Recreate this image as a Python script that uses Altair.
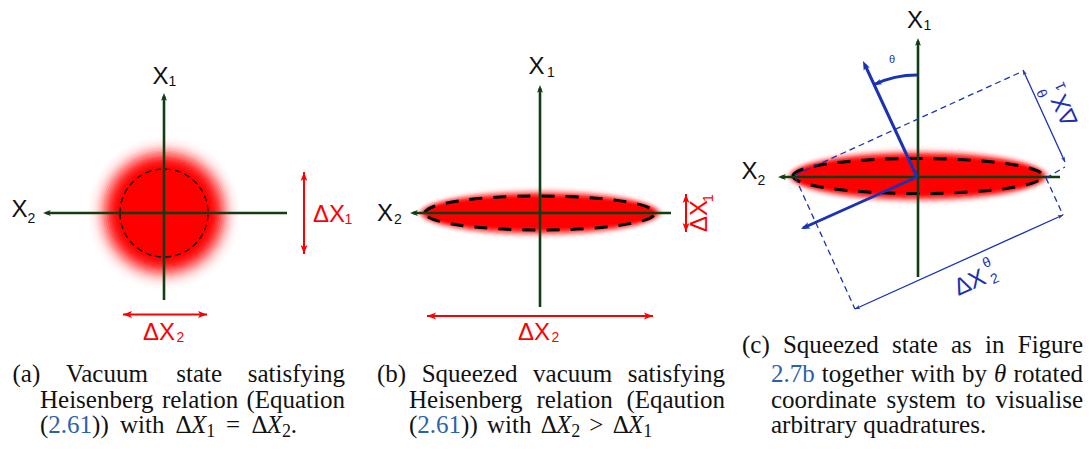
import math
import altair as alt
import pandas as pd

W, H = 1091, 452

# ---------------- geometry of the three phase-space sketches ----------------
# blurred red states: centre, solid core semi-axes, width of the soft edge
state_cx = [164, 540, 918]
state_cy = [213, 213, 176]
state_a = [40, 110, 119]
state_b = [40, 12, 15]
state_fade = [38, 16, 16]

# dashed uncertainty contours (semi-axes)
contour_a = [44, 115, 125]
contour_b = [44, 17, 17.5]

# quadrature axes X1 / X2 (dark green): x1, y1, x2, y2
axis_x1 = [164, 46, 540, 413, 918, 781]
axis_y1 = [96, 213, 88, 213, 41, 177]
axis_x2 = [164, 287, 540, 671, 918, 1060]
axis_y2 = [300, 213, 307, 213, 277, 177]
axis_tip_x = [164, 43, 540, 410, 918, 778]
axis_tip_y = [93, 213, 85, 213, 38, 177]
axis_tip_ang = [0, 270, 0, 270, 0, 270]

# red uncertainty arrows
red_x1 = [304, 123, 686, 427]
red_y1 = [172, 314.5, 194, 316]
red_x2 = [304, 207, 686, 653]
red_y2 = [254, 314.5, 232, 316]
red_tip_x = [304, 304, 123, 207, 686, 686, 427, 653]
red_tip_y = [172, 254, 314.5, 314.5, 194, 232, 316, 316]
red_tip_ang = [0, 180, 270, 90, 0, 180, 270, 90]

# rotated quadrature frame (blue)
rot_x1 = [917, 917]
rot_y1 = [177, 177]
rot_x2 = [865, 803]
rot_y2 = [65, 228]
rot_tip_x = [863, 801, 874]
rot_tip_y = [61, 229, 85]
rot_tip_ang = [335, 246, 245]

# dimension lines and their extension lines
dim_x1 = [1023, 855]
dim_y1 = [70, 309]
dim_x2 = [1065, 1063]
dim_y2 = [162, 215]
dim_tip_x = [1023, 1065, 855, 1063]
dim_tip_y = [70, 162, 309, 215]
dim_tip_ang = [335, 155, 246, 66]
ext_x1 = [795, 795, 1046, 1046]
ext_y1 = [175, 177, 178, 178]
ext_x2 = [1021, 855, 1065, 1063]
ext_y2 = [72, 309, 167, 215]

# rotation angle indicator: centre and radius of the arc
arc_cx, arc_cy, arc_r = 917, 177, 102

# ---------------- labels inside the sketches ----------------
BLACK, RED, BLUE, LINK = "#111111", "#ff0000", "#1a33b3", "#2a62ad"
GREEN = "#123d12"

lab_text = ["X", "1", "X", "2", "X", "1", "X", "2", "X", "1", "X", "2",
            "ΔX", "1", "ΔX", "2", "ΔX", "1", "ΔX", "2",
            "ΔX", "1", "θ", "ΔX", "2", "θ", "θ"]
lab_x = [160.5, 172.5, 19.5, 31.5, 536.5, 551, 385, 398, 915, 927.5, 749.5, 761.5,
         329, 348.5, 159, 180.5, 700, 709, 534, 555.5,
         1065, 1061, 1043, 970, 995, 987, 892]
lab_y = [76.5, 82, 210, 219, 66.5, 72.5, 213.5, 219.5, 20.5, 26, 172, 181,
         214.5, 220, 332.5, 338, 216, 198, 332.5, 338,
         110, 86, 93, 283, 279, 263, 60]
lab_size = [24, 14, 24, 14, 24, 14, 24, 14, 24, 14, 24, 14,
            24, 14, 24, 14, 24, 14, 24, 14,
            24, 14, 14, 24, 14, 14, 11]
lab_color = [BLACK] * 12 + [RED] * 8 + [BLUE] * 7
lab_angle = [0] * 16 + [270, 270, 0, 0] + [246, 246, 246, 336, 336, 336, 0]

# ---------------- captions ----------------
# every line is a list of words, every word a list of (text, style) runs;
# styles: r = roman, link = roman in link colour, i = italic, sub = subscript
caption_a = [
    [[("(a)", "r")], [("Vacuum", "r")], [("state", "r")], [("satisfying", "r")]],
    [[("Heisenberg", "r")], [("relation", "r")], [("(Equation", "r")]],
    [[("(", "r"), ("2.61", "link"), ("))", "r")], [("with", "r")],
     [("Δ", "r"), ("X", "i"), ("1", "sub")], [("=", "r")],
     [("Δ", "r"), ("X", "i"), ("2", "sub"), (".", "r")]],
]
caption_b = [
    [[("(b)", "r")], [("Squeezed", "r")], [("vacuum", "r")], [("satisfying", "r")]],
    [[("Heisenberg", "r")], [("relation", "r")], [("(Eqaution", "r")]],
    [[("(", "r"), ("2.61", "link"), ("))", "r")], [("with", "r")],
     [("Δ", "r"), ("X", "i"), ("2", "sub")], [(">", "r")],
     [("Δ", "r"), ("X", "i"), ("1", "sub")]],
]
caption_c = [
    [[("(c)", "r")], [("Squeezed", "r")], [("state", "r")], [("as", "r")],
     [("in", "r")], [("Figure", "r")]],
    [[("2.7b", "link")], [("together", "r")], [("with", "r")], [("by", "r")],
     [("θ", "i")], [("rotated", "r")]],
    [[("coordinate", "r")], [("system", "r")], [("to", "r")], [("visualise", "r")]],
    [[("arbitrary", "r")], [("quadratures.", "r")]],
]
captions = [caption_a, caption_b, caption_c]
cap_first_left = [12.5, 377, 742]      # x of the "(a)" line
cap_left = [40, 409, 771]              # hanging indent of the following lines
# right end of every line; None = natural word spacing
cap_line_right = [[345, 345, 297], [725, 725, 652], [1083, 1083, 1083, None]]
cap_baselines = [[382, 407.5, 433], [382, 407.5, 433], [353, 382, 407.5, 433]]
CAP_FS = 25

# advance widths (1/1000 em) of the serif face used for the captions
ROMAN_W = {" ": 250, "(": 333, ")": 333, ".": 250, "=": 564, ">": 564, "Δ": 612,
           "a": 444, "b": 500, "c": 444, "d": 500, "e": 444, "f": 333, "g": 500,
           "h": 500, "i": 278, "l": 278, "m": 778, "n": 500, "o": 500, "q": 500,
           "r": 333, "s": 389, "t": 278, "u": 500, "v": 500, "w": 722, "y": 500,
           "z": 444, "E": 611, "F": 556, "H": 722, "S": 556, "V": 722}
ITALIC_W = {"X": 611, "θ": 500}


def run_width(text, style):
    table = ITALIC_W if style == "i" else ROMAN_W
    em = sum(table.get(ch, 500) for ch in text) / 1000.0
    return em * CAP_FS * (0.7 if style == "sub" else 1.0)


cap_rows = []
for cap, x_first, x_left, rights, bases in zip(
        captions, cap_first_left, cap_left, cap_line_right, cap_baselines):
    for li, (line, base, x_right) in enumerate(zip(cap, bases, rights)):
        x0 = x_first if li == 0 else x_left
        widths = [sum(run_width(t, s) for t, s in word) for word in line]
        if x_right is None:
            gap = 0.25 * CAP_FS
        else:
            gap = (x_right - x0 - sum(widths)) / (len(line) - 1)
        x = x0
        for word, wdt in zip(line, widths):
            xr = x
            for t, s in word:
                cap_rows.append(dict(t=t, style=s, x=xr,
                                     y=base + (4 if s == "sub" else 0),
                                     c=LINK if s == "link" else BLACK))
                xr += run_width(t, s)
            x += wdt + gap
cap_df = pd.DataFrame(cap_rows)


# ---------------- helpers ----------------
def ellipse_path(ratio):
    """Unit ellipse (x semi-axis 1, y semi-axis = ratio) as a symbol path."""
    k = 0.5523
    r = ratio
    return (f"M-1,0C-1,{-k * r:.4f},{-k:.4f},{-r:.4f},0,{-r:.4f}"
            f"C{k:.4f},{-r:.4f},1,{-k * r:.4f},1,0"
            f"C1,{k * r:.4f},{k:.4f},{r:.4f},0,{r:.4f}"
            f"C{-k:.4f},{r:.4f},-1,{k * r:.4f},-1,0Z")


ARROW = "M0,0L0.62,1.65L0,1.25L-0.62,1.65Z"
ARC = "M0,-1Q-0.2217,-1,-0.4226,-0.9063"

xs = alt.Scale(domain=[0, W], nice=False, zero=False)
ys = alt.Scale(domain=[0, H], nice=False, zero=False, reverse=True)


def pos():
    return dict(x=alt.X("x:Q", scale=xs, axis=None),
                y=alt.Y("y:Q", scale=ys, axis=None))


def seg_df(x1, y1, x2, y2):
    return pd.DataFrame({"x": x1, "y": y1, "x2": x2, "y2": y2})


def rule_layer(df, color, width, dash=None):
    kw = dict(color=color, strokeWidth=width)
    if dash:
        kw["strokeDash"] = dash
    return alt.Chart(df).mark_rule(**kw).encode(**pos(), x2="x2:Q", y2="y2:Q")


# ---------------- soft red states ----------------
# a solid core plus stacked translucent rings whose combined opacity
# falls off smoothly across the soft edge
N_RING = 20


def edge_opacity(d, w):
    return 0.5 * math.erfc((d - w / 2) / (math.sqrt(2) * w / 5))


rows = []
for cx, cy, a, b, w in zip(state_cx, state_cy, state_a, state_b, state_fade):
    rows.append(dict(x=cx, y=cy, shape=ellipse_path(b / a), size=4 * a * a, op=1.0))
    target = [edge_opacity((i - 0.5) * w / N_RING, w) for i in range(1, N_RING + 1)] + [0.0]
    for i in range(1, N_RING + 1):
        alpha = 1 - (1 - target[i - 1]) / (1 - target[i])
        e = w * i / N_RING
        A, B = a + e, b + e
        rows.append(dict(x=cx, y=cy, shape=ellipse_path(B / A), size=4 * A * A,
                         op=round(max(alpha, 0.0), 4)))
glow = alt.Chart(pd.DataFrame(rows)).mark_point(
    filled=True, color=RED, strokeWidth=0).encode(
    **pos(),
    shape=alt.Shape("shape:N", scale=None),
    size=alt.Size("size:Q", scale=None),
    opacity=alt.Opacity("op:Q", scale=None))

# dashed contours
cont = pd.DataFrame({
    "x": state_cx, "y": state_cy,
    "shape": [ellipse_path(b / a) for a, b in zip(contour_a, contour_b)],
    "size": [4 * a * a for a in contour_a]})
contour_thin = alt.Chart(cont.iloc[[0]]).mark_point(
    filled=False, color="black", strokeWidth=1.2, strokeDash=[6, 4], opacity=1).encode(
    **pos(), shape=alt.Shape("shape:N", scale=None), size=alt.Size("size:Q", scale=None))
contour_thick = alt.Chart(cont.iloc[[1, 2]]).mark_point(
    filled=False, color="black", strokeWidth=3, strokeDash=[13, 11], opacity=1).encode(
    **pos(), shape=alt.Shape("shape:N", scale=None), size=alt.Size("size:Q", scale=None))

# ---------------- lines ----------------
axes = rule_layer(seg_df(axis_x1, axis_y1, axis_x2, axis_y2), GREEN, 2.6)
red_lines = rule_layer(seg_df(red_x1, red_y1, red_x2, red_y2), RED, 2)
rot_lines = rule_layer(seg_df(rot_x1, rot_y1, rot_x2, rot_y2), BLUE, 3)
dim_lines = rule_layer(seg_df(dim_x1, dim_y1, dim_x2, dim_y2), BLUE, 1.3)
ext_lines = rule_layer(seg_df(ext_x1, ext_y1, ext_x2, ext_y2), BLUE, 1.3, [6, 4])

arc = alt.Chart(pd.DataFrame({"x": [arc_cx], "y": [arc_cy]})).mark_point(
    shape=ARC, filled=False, color=BLUE, strokeWidth=3, opacity=1,
    size=(2 * arc_r) ** 2).encode(**pos())

# arrowheads
heads = pd.concat([
    pd.DataFrame({"x": axis_tip_x, "y": axis_tip_y, "ang": axis_tip_ang,
                  "c": GREEN, "s": 90}),
    pd.DataFrame({"x": red_tip_x, "y": red_tip_y, "ang": red_tip_ang,
                  "c": RED, "s": 120}),
    pd.DataFrame({"x": rot_tip_x, "y": rot_tip_y, "ang": rot_tip_ang,
                  "c": BLUE, "s": [120, 120, 90]}),
    pd.DataFrame({"x": dim_tip_x, "y": dim_tip_y, "ang": dim_tip_ang,
                  "c": BLUE, "s": 40}),
], ignore_index=True)
arrowheads = alt.Chart(heads).mark_point(
    shape=ARROW, filled=True, strokeWidth=0, opacity=1).encode(
    **pos(),
    angle=alt.Angle("ang:Q", scale=None),
    color=alt.Color("c:N", scale=None),
    size=alt.Size("s:Q", scale=None))

# ---------------- text ----------------
labels = alt.Chart(pd.DataFrame({
    "t": lab_text, "x": lab_x, "y": lab_y, "fs": lab_size,
    "c": lab_color, "ang": lab_angle})).mark_text(
    font="Liberation Sans", align="center", baseline="middle").encode(
    **pos(), text="t:N",
    size=alt.Size("fs:Q", scale=None),
    color=alt.Color("c:N", scale=None),
    angle=alt.Angle("ang:Q", scale=None))

cap_roman = alt.Chart(cap_df[cap_df["style"].isin(["r", "link"])]).mark_text(
    font="Liberation Serif", fontSize=CAP_FS, align="left", baseline="alphabetic").encode(
    **pos(), text="t:N", color=alt.Color("c:N", scale=None))
cap_italic = alt.Chart(cap_df[cap_df["style"] == "i"]).mark_text(
    font="Liberation Serif", fontSize=CAP_FS, fontStyle="italic", align="left",
    baseline="alphabetic", color=BLACK).encode(**pos(), text="t:N")
cap_sub = alt.Chart(cap_df[cap_df["style"] == "sub"]).mark_text(
    font="Liberation Serif", fontSize=round(CAP_FS * 0.7), align="left",
    baseline="alphabetic", color=BLACK).encode(**pos(), text="t:N")

chart = alt.layer(
    glow, contour_thin, contour_thick, axes, red_lines,
    ext_lines, dim_lines, rot_lines, arc, arrowheads,
    labels, cap_roman, cap_italic, cap_sub,
).properties(
    width=W, height=H, padding=0, autosize="none", background="white",
).configure_view(stroke=None)

chart.save("out.html", embed_options={"renderer": "svg", "actions": False})
